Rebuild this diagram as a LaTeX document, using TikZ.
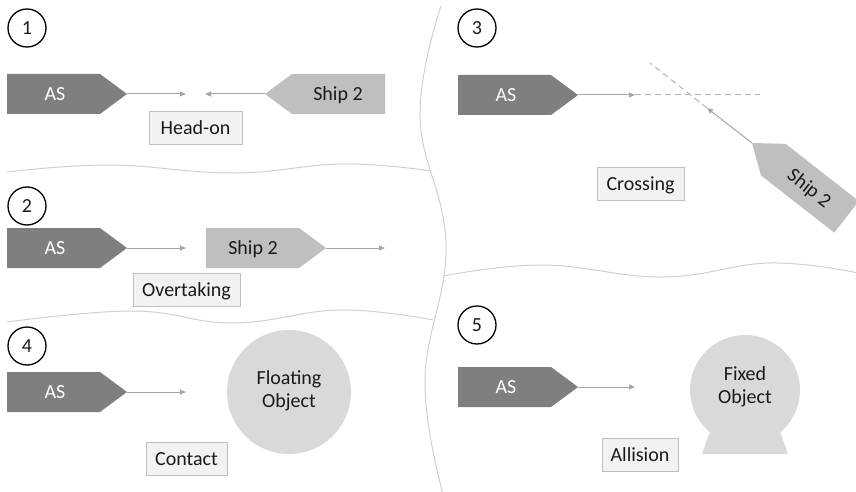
\documentclass[tikz,border=0pt]{standalone}
\usepackage{fontspec}
\setmainfont{Carlito}
\usetikzlibrary{arrows.meta}

\definecolor{asgray}{HTML}{7F7F7F}
\definecolor{shipgray}{HTML}{BFBFBF}
\definecolor{objgray}{HTML}{D9D9D9}
\definecolor{boxfill}{HTML}{F2F2F2}
\definecolor{boxline}{HTML}{BFBFBF}
\definecolor{wake}{HTML}{A6A6A6}
\definecolor{divider}{HTML}{D0D0D0}
\definecolor{ink}{HTML}{1A1A1A}

\begin{document}
\begin{tikzpicture}[x=1pt,y=-1pt,
  every node/.style={font=\fontsize{20}{23}\selectfont},
  asbody/.style={fill=asgray,draw=none},
  shipbody/.style={fill=shipgray,draw=none},
  object/.style={fill=objgray,draw=none},
  astext/.style={text=white,inner sep=0pt,text height=13pt,text depth=0pt},
  shiptext/.style={text=ink,inner sep=0pt,text height=13pt,text depth=0pt},
  objtext/.style={text=ink,inner sep=0pt,align=center},
  tag/.style={draw=boxline,fill=boxfill,text=ink,line width=0.8pt,inner sep=0pt,
              minimum height=33pt,text height=13pt,text depth=0pt},
  badge/.style={circle,draw=black,line width=1.3pt,minimum size=38pt,inner sep=0pt,
                text=ink,text height=13pt,text depth=0pt},
  course/.style={draw=wake,line width=1pt,-{Triangle[length=6pt,width=5pt]}},
  projected/.style={draw=wake!85,line width=1pt,dash pattern=on 6pt off 4pt},
  divline/.style={draw=divider,line width=1pt}
]
\useasboundingbox (0,0) rectangle (856,492);
\clip (0,0) rectangle (856,492);

% ---------- wavy dividers between the five encounter types ----------
\draw[divline] plot[smooth,tension=0.7] coordinates
  {(441,6) (420,117) (446,245) (425,380) (443,494)};
\draw[divline] plot[smooth,tension=0.7] coordinates
  {(7,172) (110,165) (233,173) (343,164) (432,171)};
\draw[divline] plot[smooth,tension=0.7] coordinates
  {(7,322) (133,311) (233,323) (340,310) (433,320)};
\draw[divline] plot[smooth,tension=0.7] coordinates
  {(443,276) (543,265) (663,277) (770,263) (858,273)};

% ---------- 1: head-on ----------
\node[badge] (n1) at (27,28) {1};
\path[asbody] (7,74) -- (100,74) -- (127,94) -- (100,114) -- (7,114) -- cycle;
\node[astext] (as1) at (55,94) {AS};
\coordinate (as1tip) at (127,94);
\coordinate (as1head) at (186,94);
\path[shipbody] (385,74) -- (292,74) -- (265,94) -- (292,114) -- (385,114) -- cycle;
\node[shiptext] (sh1) at (338,94) {Ship 2};
\coordinate (sh1tip) at (265,94);
\coordinate (sh1head) at (205,94);
\draw[course] (as1tip) -- (as1head);
\draw[course] (sh1tip) -- (sh1head);
\node[tag,minimum width=93pt] (headon) at (195.5,128) {Head-on};

% ---------- 2: overtaking ----------
\node[badge] (n2) at (27,206) {2};
\path[asbody] (7,228) -- (100,228) -- (127,248) -- (100,268) -- (7,268) -- cycle;
\node[astext] (as2) at (55,248) {AS};
\coordinate (as2tip) at (127,248);
\coordinate (as2head) at (186,248);
\path[shipbody] (206,228) -- (299,228) -- (326,248) -- (299,268) -- (206,268) -- cycle;
\node[shiptext] (sh2) at (253,248) {Ship 2};
\coordinate (sh2tip) at (326,248);
\coordinate (sh2head) at (385,248);
\draw[course] (as2tip) -- (as2head);
\draw[course] (sh2tip) -- (sh2head);
\node[tag,minimum width=107pt] (overtaking) at (186.5,289.5) {Overtaking};

% ---------- 4: contact with a floating object ----------
\node[badge] (n4) at (27,346) {4};
\path[asbody] (7,372) -- (100,372) -- (127,392) -- (100,412) -- (7,412) -- cycle;
\node[astext] (as4) at (55,392) {AS};
\coordinate (as4tip) at (127,392);
\coordinate (as4head) at (186,392);
\draw[course] (as4tip) -- (as4head);
\fill[objgray] (289,392) circle[radius=62];
\node[objtext] (floating) at (289,391) {Floating\\Object};
\node[tag,minimum width=81pt] (contact) at (186.5,458.5) {Contact};

% ---------- 3: crossing ----------
\node[badge] (n3) at (477,28) {3};
\path[asbody] (458,75) -- (551,75) -- (578,95) -- (551,115) -- (458,115) -- cycle;
\node[astext] (as3) at (506,95) {AS};
\coordinate (as3tip) at (578,95);
\coordinate (as3head) at (635,95);
\coordinate (as3far) at (760,95);
\draw[course] (as3tip) -- (as3head);
\draw[projected] (as3head) -- (as3far);
\begin{scope}[shift={(752,143)},rotate=142]
  \path[shipbody] (0,0) -- (-27,-20) -- (-120,-20) -- (-120,20) -- (-27,20) -- cycle;
\end{scope}
\node[shiptext,rotate=-38] (sh3) at (809.5,188) {Ship 2};
\coordinate (sh3tip) at (752,143);
\coordinate (sh3head) at (707,108);
\coordinate (sh3far) at (650,63);
\draw[projected] (sh3head) -- (sh3far);
\draw[course] (sh3tip) -- (sh3head);
\node[tag,minimum width=87pt] (crossing) at (640.5,184) {Crossing};

% ---------- 5: allision with a fixed object ----------
\node[badge] (n5) at (477,325) {5};
\path[asbody] (458,367) -- (551,367) -- (578,387) -- (551,407) -- (458,407) -- cycle;
\node[astext] (as5) at (506,387) {AS};
\coordinate (as5tip) at (578,387);
\coordinate (as5head) at (635,387);
\draw[course] (as5tip) -- (as5head);
\fill[objgray] (745,390) circle[radius=55];
\fill[objgray] (714,420) -- (776,420) -- (788,454) -- (702,454) -- cycle;
\node[objtext] (fixed) at (745,387) {Fixed\\Object};
\node[tag,minimum width=76pt] (allision) at (640,454.5) {Allision};
\end{tikzpicture}
\end{document}
